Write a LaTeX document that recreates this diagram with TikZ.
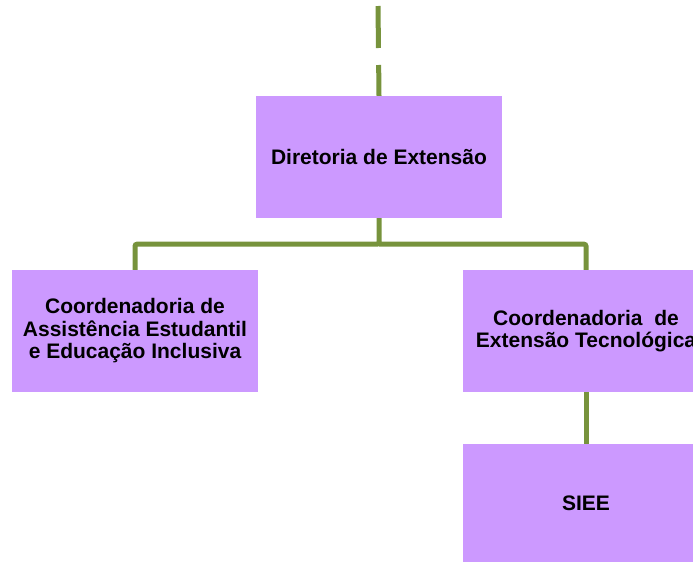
\documentclass[tikz,border=0pt]{standalone}
\usepackage{fontspec}
\setmainfont{Liberation Sans}
\usetikzlibrary{positioning}

\definecolor{boxviolet}{HTML}{CC99FF}
\definecolor{lineolive}{HTML}{77933C}

\tikzset{
    unitbox/.style={rectangle, fill=boxviolet, minimum width=246, minimum height=122,
        inner sep=0pt, align=center, font=\bfseries\fontsize{21}{22.5}\selectfont},
    link/.style={draw=lineolive, line width=5pt}
}

\begin{document}
\begin{tikzpicture}[x=1pt, y=-1pt]

	\useasboundingbox (0, 0) rectangle (693, 563);
	\clip (0, 0) rectangle (693, 563);

	\coordinate (top) at (378, 6);
    \node (dir) [unitbox] at (379, 157) {Diretoria de Extensão};
    \node (cae) [unitbox] at (135, 331) {Coordenadoria de\\Assistência Estudantil\\e Educação Inclusiva};
    \node (cet) [unitbox] at (586, 331) {Coordenadoria\ \ de\\Extensão Tecnológica};
    \node (siee) [unitbox, minimum height=118] at (586, 503) {SIEE};

    \path[link, dash pattern=on 42pt off 17pt] (top) -- (dir.north);
    \path[link, rounded corners=2pt]
    (dir.south) -- ++(0, 26) -| (cae.north)
    (dir.south) ++(0, 26) -| (cet.north);
    \path[link]
    (cet) edge (siee);

\end{tikzpicture}
\end{document}
